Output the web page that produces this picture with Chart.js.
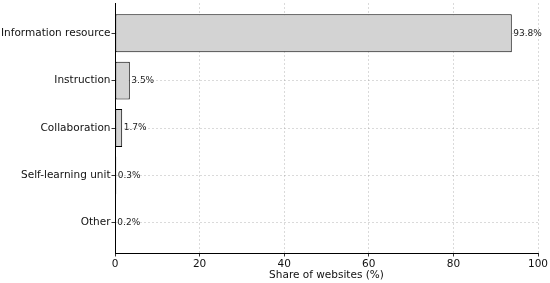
<!DOCTYPE html>
<html>
<head>
<meta charset="utf-8">
<script src="https://cdn.jsdelivr.net/npm/chart.js@4"></script>
<style>
  html, body { margin: 0; padding: 0; background: #fff; }
  #wrap { width: 550px; height: 283px; }
</style>
</head>
<body>
<div id="wrap"><canvas id="usageChart"></canvas></div>
<script>
// Chart data
const categories = ['Information resource', 'Instruction', 'Collaboration', 'Self-learning unit', 'Other'];
const shares = [93.8, 3.5, 1.7, 0.3, 0.2];
const xTicks = [0, 20, 40, 60, 80, 100];

const FONT = 'DejaVu Sans';

// Value labels at the end of each bar
const valueLabels = {
    id: 'valueLabels',
    afterDatasetsDraw(chart) {
        const ctx = chart.ctx;
        const meta = chart.getDatasetMeta(0);
        ctx.save();
        ctx.font = '9px "' + FONT + '"';
        ctx.fillStyle = '#222';
        ctx.textAlign = 'left';
        ctx.textBaseline = 'middle';
        meta.data.forEach((bar, i) => {
            ctx.fillText(shares[i].toFixed(1) + '%', bar.x + 1.5, bar.y);
        });
        ctx.restore();
    }
};

const ctx = document.getElementById('usageChart');

new Chart(ctx.getContext('2d'), {
    type: 'bar',
    data: {
        datasets: [{
            data: categories.map((c, i) => ({ x: shares[i], y: i })),
            backgroundColor: '#d3d3d3',
            borderColor: '#000',
            borderWidth: 1,
            borderSkipped: false,
            barPercentage: 0.8,
            categoryPercentage: 1
        }]
    },
    options: {
        indexAxis: 'y',
        responsive: true,
        maintainAspectRatio: false,
        animation: false,
        layout: { padding: { top: 3, right: 12, left: 0, bottom: 0 } },
        scales: {
            x: {
                type: 'linear',
                min: 0,
                max: 100,
                z: 1,
                afterBuildTicks: scale => { scale.ticks = xTicks.map(v => ({ value: v })); },
                afterFit: scale => { scale.height = 30; },
                grid: {
                    color: 'rgba(150,150,150,0.45)',
                    lineWidth: 0.8,
                    tickColor: '#000',
                    tickLength: 3.5
                },
                border: { color: '#000', width: 1, dash: [2, 2] },
                ticks: {
                    color: '#111',
                    font: { family: FONT, size: 10.5 },
                    padding: 1,
                    maxRotation: 0
                },
                title: {
                    display: true,
                    text: 'Share of websites (%)',
                    color: '#111',
                    font: { family: FONT, size: 10.5 },
                    padding: { top: 0, bottom: 1.5 }
                }
            },
            y: {
                type: 'linear',
                reverse: true,
                offset: false,
                min: -0.64,
                max: 4.64,
                z: 1,
                afterBuildTicks: scale => { scale.ticks = categories.map((c, i) => ({ value: i })); },
                afterFit: scale => {
                    scale.width = 115;
                    scale.paddingTop = 0;
                    scale.paddingBottom = 0;
                },
                grid: {
                    offset: false,
                    color: 'rgba(150,150,150,0.45)',
                    lineWidth: 0.8,
                    tickColor: '#000',
                    tickLength: 3.5
                },
                border: { color: '#000', width: 1, dash: [2, 2] },
                ticks: {
                    color: '#111',
                    font: { family: FONT, size: 10.5 },
                    padding: 1,
                    callback: v => categories[v]
                }
            }
        },
        plugins: {
            legend: { display: false },
            tooltip: { enabled: false }
        }
    },
    plugins: [valueLabels]
});
</script>
</body>
</html>
